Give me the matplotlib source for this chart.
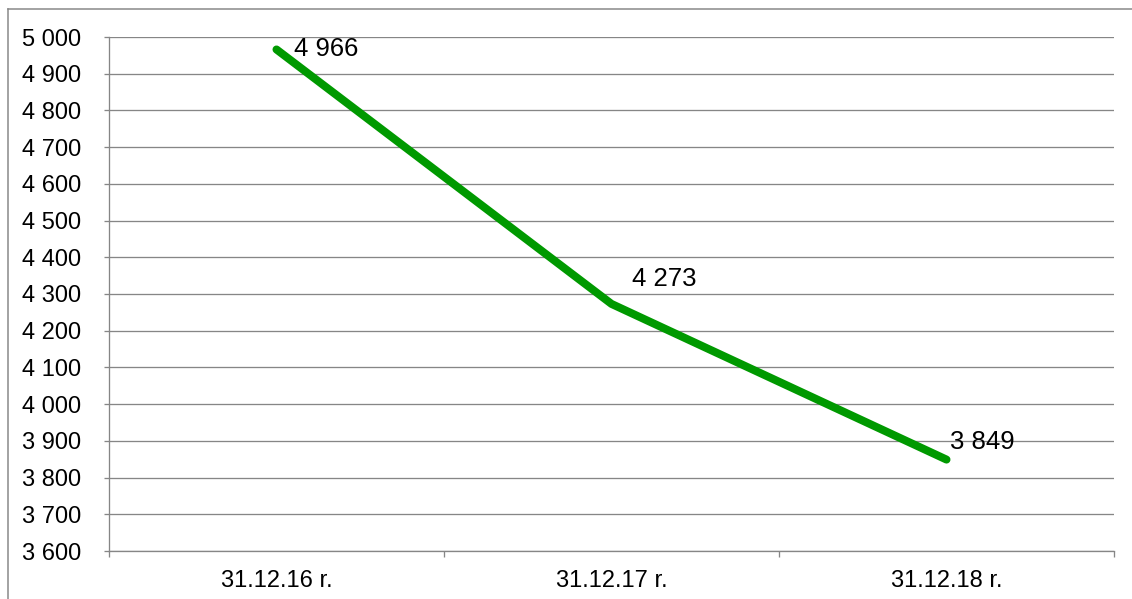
import matplotlib
matplotlib.use("Agg")
import matplotlib.pyplot as plt
from matplotlib.lines import Line2D
from matplotlib.ticker import FixedLocator

# данные
dates = ["31.12.16 r.", "31.12.17 r.", "31.12.18 r."]
values = [4966, 4273, 3849]
y_ticks = list(range(3600, 5001, 100))

# смещения подписей (пиксели)
label_dx = [18, 21, 4]
label_dy = [0, 25, 18]

W, H, DPI = 1132, 599, 100
px = 72 / DPI  # пиксели -> пункты

plt.rcParams['font.family'] = ['Liberation Sans', 'DejaVu Sans']

fig = plt.figure(figsize=(W / DPI, H / DPI), dpi=DPI)
ax = fig.add_axes([109 / W, (H - 551) / H, 1005 / W, 514 / H])

grid_c = "#868686"
x = list(range(len(dates)))
ax.plot(x, values, color="#009900", linewidth=8 * px, solid_capstyle="round",
        solid_joinstyle="round", zorder=3)

for xi, v, dx, dy in zip(x, values, label_dx, label_dy):
    ax.annotate(f"{v:,}".replace(",", " "), (xi, v), xytext=(dx * px, dy * px),
                textcoords="offset points", ha="left", va="center",
                fontsize=18.5, color="black", zorder=4)

ax.set_xlim(-0.5, len(dates) - 0.5)
ax.set_ylim(3600, 5000)
ax.set_yticks(y_ticks)
ax.set_yticklabels([f"{t:,}".replace(",", " ") for t in y_ticks])
ax.set_xticks(x)
ax.set_xticklabels(dates)
ax.xaxis.set_minor_locator(FixedLocator([i - 0.5 for i in range(len(dates) + 1)]))

ax.tick_params(axis="y", length=5 * px, width=1.3 * px, color=grid_c, pad=23 * px,
               labelsize=17)
ax.tick_params(axis="x", which="major", length=0, pad=19 * px, labelsize=17)
ax.tick_params(axis="x", which="minor", length=6 * px, width=1.3 * px, color=grid_c)

ax.grid(axis="y", color=grid_c, linewidth=1.3 * px)
ax.set_axisbelow(True)
for s in ["top", "right"]:
    ax.spines[s].set_visible(False)
for s in ["left", "bottom"]:
    ax.spines[s].set_color(grid_c)
    ax.spines[s].set_linewidth(1.3 * px)

# внешняя рамка
fig.add_artist(Line2D([8 / W, 8 / W], [0, 1 - 9 / H], transform=fig.transFigure,
                      color=grid_c, linewidth=1.5 * px))
fig.add_artist(Line2D([8 / W, 1], [1 - 9 / H, 1 - 9 / H], transform=fig.transFigure,
                      color=grid_c, linewidth=1.5 * px))

fig.savefig("out.png", dpi=DPI)
